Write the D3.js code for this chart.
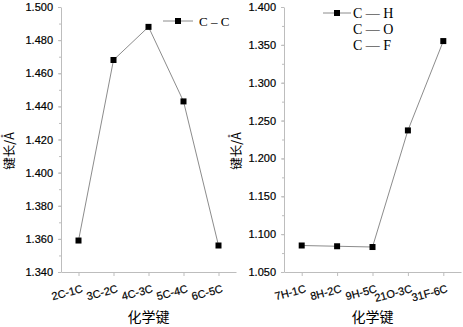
<!DOCTYPE html>
<html>
<head>
<meta charset="utf-8">
<script src="https://cdn.jsdelivr.net/npm/d3@7"></script>
<style>
  body { margin: 0; background: #fff; }
  svg { display: block; }
  .tick text { fill: #000; }
</style>
</head>
<body>
<div id="svg-container"></div>
<script>
// data
var ccBonds = ['2C-1C', '3C-2C', '4C-3C', '5C-4C', '6C-5C']
var ccLengths = [1.359, 1.468, 1.488, 1.443, 1.356]
var ccTicks = [1.34, 1.36, 1.38, 1.4, 1.42, 1.44, 1.46, 1.48, 1.5]

var hxBonds = ['7H-1C', '8H-2C', '9H-5C', '21O-3C', '31F-6C']
var hxLengths = [1.085, 1.084, 1.083, 1.237, 1.355]
var hxTicks = [1.05, 1.1, 1.15, 1.2, 1.25, 1.3, 1.35, 1.4]

var svgWidth = 463, svgHeight = 327
var axisColor = '#bdbdbd'
var tickFont = 'Liberation Sans, Arial, sans-serif'
var cjkFont = '"Noto Sans CJK SC", sans-serif'
var serif = 'Liberation Serif, "Times New Roman", serif'

var svg = d3
  .select('#svg-container')
  .append('svg')
  .attr('width', svgWidth)
  .attr('height', svgHeight)

function panel(opts) {
  var x = d3.scalePoint().domain(opts.cats).range([opts.left, opts.right]).padding(0.5)
  var y = d3.scaleLinear().domain(opts.domain).range([272, 7])

  // minor ticks
  var minor = d3.range(opts.domain[0], opts.domain[1] + 1e-9, opts.minorStep)
  svg
    .append('g')
    .attr('transform', `translate(${opts.left}, 0)`)
    .call(d3.axisLeft(y).tickValues(minor).tickSize(2).tickFormat(''))
    .call(g => g.select('.domain').remove())
    .call(g => g.selectAll('.tick line').attr('stroke', axisColor))

  // y axis
  svg
    .append('g')
    .attr('transform', `translate(${opts.left}, 0)`)
    .call(
      d3.axisLeft(y).tickValues(opts.ticks).tickSize(3).tickSizeOuter(0).tickPadding(5)
        .tickFormat(d3.format('.3f')),
    )
    .call(g => g.select('.domain').attr('stroke', axisColor))
    .call(g => g.selectAll('.tick line').attr('stroke', axisColor))
    .call(g => g.selectAll('.tick text').style('font-family', tickFont).style('font-size', '11px')
      .attr('stroke', '#000').attr('stroke-width', 0.2))

  // x axis
  svg
    .append('g')
    .attr('transform', 'translate(0, 272)')
    .call(d3.axisBottom(x).tickSize(4).tickSizeOuter(0))
    .call(g => g.select('.domain').attr('stroke', axisColor))
    .call(g => g.selectAll('.tick line').attr('stroke', axisColor))
    .call(g =>
      g.selectAll('.tick text')
        .attr('x', null)
        .attr('y', null)
        .attr('dy', null)
        .attr('text-anchor', 'end')
        .attr('transform', 'translate(4.5, 20) rotate(-15)')
        .attr('stroke', '#000')
        .attr('stroke-width', 0.2)
        .style('font-family', tickFont)
        .style('font-size', '11px'),
    )

  var pts = opts.cats.map((c, i) => [x(c), y(opts.values[i])])

  svg
    .append('path')
    .attr('fill', 'none')
    .attr('stroke', '#8c8c8c')
    .attr('stroke-width', 1)
    .attr('d', d3.line()(pts))

  svg
    .append('g')
    .selectAll('rect')
    .data(pts)
    .enter()
    .append('rect')
    .attr('x', d => d[0] - 3)
    .attr('y', d => d[1] - 3)
    .attr('width', 6)
    .attr('height', 6)
    .attr('fill', '#000')

  // titles
  svg
    .append('text')
    .attr('x', (opts.left + opts.right) / 2)
    .attr('y', 322)
    .attr('text-anchor', 'middle')
    .style('font-family', cjkFont)
    .style('font-size', '14px')
    .text('化学键')

  svg
    .append('text')
    .attr('transform', `translate(${opts.ylabelX}, 151) rotate(-90)`)
    .attr('text-anchor', 'middle')
    .attr('dy', '0.36em')
    .style('font-family', cjkFont)
    .style('font-size', '12.5px')
    .text('键长/Å')
}

panel({
  cats: ccBonds, values: ccLengths, ticks: ccTicks,
  domain: [1.34, 1.5], minorStep: 0.01, left: 61, right: 236, ylabelX: 9,
})
panel({
  cats: hxBonds, values: hxLengths, ticks: hxTicks,
  domain: [1.05, 1.4], minorStep: 0.025, left: 284, right: 461, ylabelX: 236,
})

// legends
function legendLine(g, x0, x1, y) {
  g.append('line').attr('x1', x0).attr('x2', x1).attr('y1', y).attr('y2', y)
    .attr('stroke', '#8c8c8c')
  g.append('rect').attr('x', (x0 + x1) / 2 - 3).attr('y', y - 3)
    .attr('width', 6).attr('height', 6).attr('fill', '#000')
}

var lg1 = svg.append('g')
legendLine(lg1, 163, 193, 21)
lg1.append('text').attr('x', 199).attr('y', 25.5)
  .style('font-family', serif).style('font-size', '13px').text('C – C')

var lg2 = svg.append('g')
legendLine(lg2, 323, 351, 13)
var names = ['C — H', 'C — O', 'C — F']
lg2.selectAll('text')
  .data(names)
  .enter()
  .append('text')
  .attr('x', 353)
  .attr('y', (d, i) => 18 + i * 16)
  .style('font-family', serif)
  .style('font-size', '14px')
  .text(d => d)
</script>
</body>
</html>
